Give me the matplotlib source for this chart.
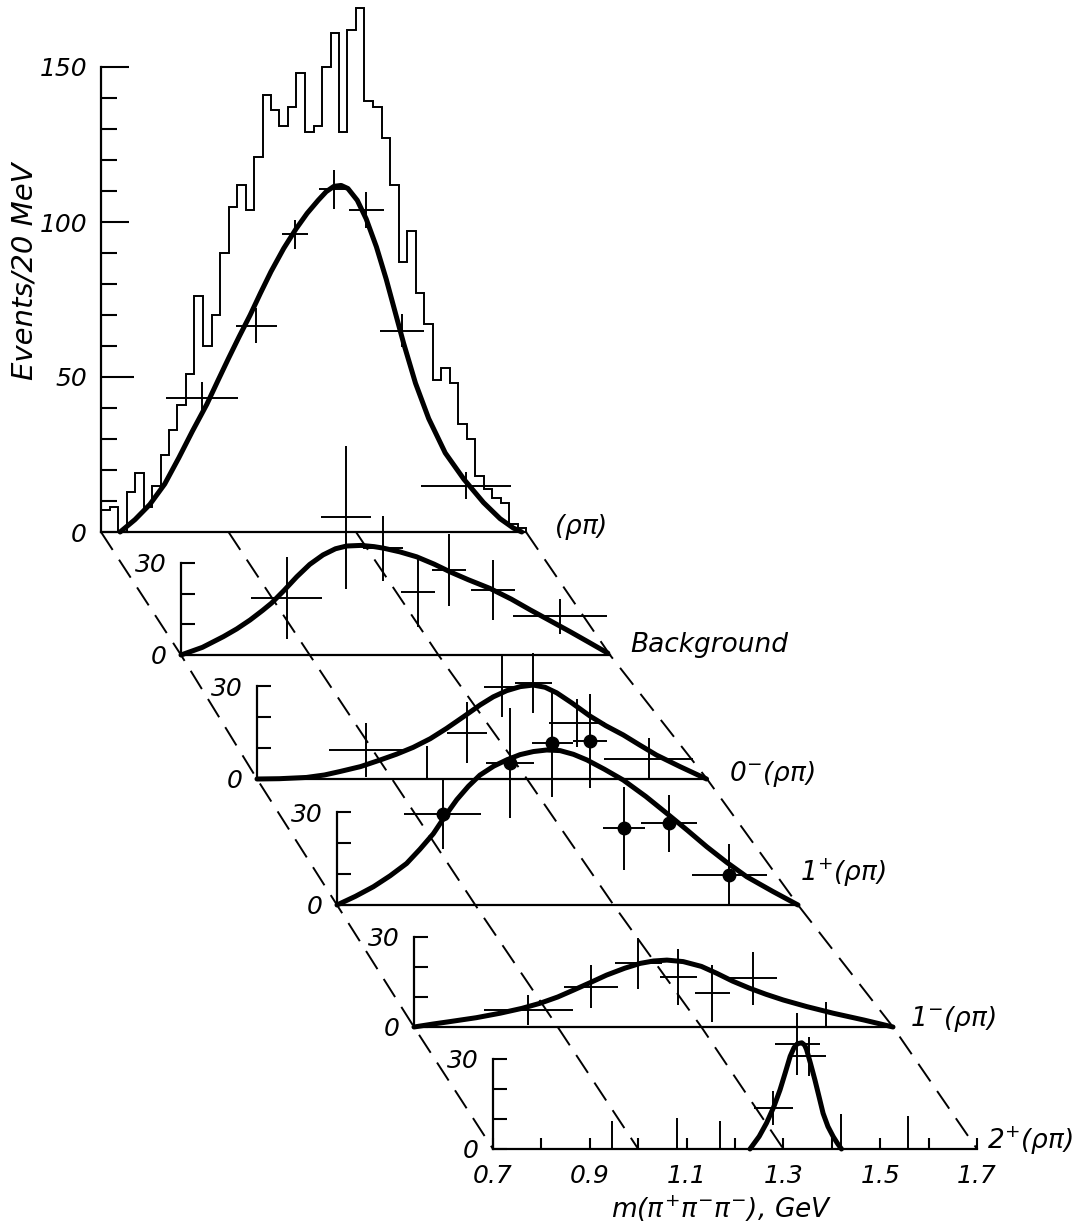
import matplotlib
matplotlib.use("Agg")
import matplotlib.pyplot as plt
from matplotlib.lines import Line2D
import numpy as np

plt.rcParams["font.family"] = ["DejaVu Sans"]
plt.rcParams["font.style"] = "italic"
plt.rcParams["mathtext.fontset"] = "custom"
plt.rcParams["mathtext.rm"] = "DejaVu Sans:italic"
plt.rcParams["mathtext.it"] = "DejaVu Sans:italic"

# ---------------- data (mass in GeV, events per 20 MeV) ----------------
# top panel: all events, histogram in 20 MeV bins starting at 0.70 GeV
hist_counts = [7, 8, 0, 13, 19, 8, 15, 25, 33, 41,
               51, 76, 60, 70, 90, 105, 112, 104, 121, 141,
               136, 131, 137, 148, 129, 131, 150, 161, 129, 162,
               169, 139, 137, 127, 112, 87, 97, 77, 67, 49,
               53, 48, 35, 30, 18, 14, 11, 9.5, 2.5, 1.4]
hist_edges = 0.70 + 0.02 * np.arange(len(hist_counts) + 1)

rhopi_fit_m = [0.745, 0.78, 0.815, 0.85, 0.883, 0.915, 0.949, 0.975, 1.000, 1.025,
               1.051, 1.075, 1.100, 1.130, 1.159, 1.185, 1.211, 1.230, 1.248, 1.265,
               1.281, 1.303, 1.324, 1.348, 1.371, 1.392, 1.412, 1.440, 1.471, 1.510,
               1.554, 1.600, 1.639, 1.670, 1.690]
rhopi_fit_v = [0, 4, 8.9, 15.5, 23.9, 32.5, 41.2, 48.8, 56, 63,
               70, 77, 84, 91.5, 97.8, 102.8, 107, 109.8, 111.5, 111.8,
               110.8, 107, 101, 92, 81.6, 71, 60.9, 48, 36.6, 25.5,
               17, 9.5, 4.3, 1.3, 0]
rhopi_m = [0.938, 1.065, 1.156, 1.248, 1.324, 1.408, 1.559]
rhopi_dm = [0.085, 0.048, 0.031, 0.034, 0.041, 0.052, 0.105]
rhopi_v = [43.3, 66.6, 96, 110.5, 103.8, 65, 14.9]
rhopi_dv = [5, 5.5, 4.6, 6.4, 5.8, 5.2, 4.4]

bg_fit_m = [0.70, 0.75, 0.799, 0.83, 0.861, 0.89, 0.911, 0.94, 0.97, 1.0,
            1.031, 1.06, 1.086, 1.12, 1.15, 1.172, 1.21, 1.249, 1.29, 1.327,
            1.37, 1.42, 1.47, 1.514, 1.56, 1.607, 1.65, 1.695]
bg_fit_v = [0, 2.5, 6.0, 8.5, 11.4, 14.5, 16.9, 21, 25.5, 29.5,
            32.6, 34.6, 35.5, 35.7, 35.3, 34.8, 33.6, 32.0, 29.6, 27.1,
            24.5, 21.7, 18.2, 14.7, 11.2, 7.6, 4.2, 0.6]
bg_m = [0.946, 1.085, 1.171, 1.253, 1.325, 1.427, 1.583]
bg_dm = [0.083, 0.058, 0.047, 0.04, 0.04, 0.052, 0.11]
bg_v = [18.5, 44.8, 34.7, 20.6, 27.7, 21.2, 12.7]
bg_dv = [13.3, 23.3, 10.6, 11.4, 11.8, 9.8, 5.7]

zm_fit_m = [0.70, 0.75, 0.81, 0.85, 0.884, 0.93, 0.973, 1.01, 1.047, 1.085,
            1.121, 1.16, 1.196, 1.225, 1.255, 1.285, 1.314, 1.34, 1.366, 1.40,
            1.44, 1.475, 1.514, 1.55, 1.588, 1.64, 1.699]
zm_fit_v = [0, 0.1, 0.5, 1.3, 2.4, 4, 6.1, 8, 10.2, 13,
            16.3, 20.2, 23.9, 26.5, 28.5, 29.8, 30.3, 29.6, 27.8, 24.5,
            20.3, 17.2, 14.2, 11, 7.7, 4, 0]
zm_m = [0.942, 1.166, 1.244, 1.314, 1.412, 1.570]
zm_dm = [0.083, 0.044, 0.039, 0.041, 0.062, 0.098]
zm_v = [9.4, 15, 29.8, 31, 18, 6.3]
zm_dv = [8.6, 9.7, 9.8, 9.8, 7.7, 7]
zm_zero_m = [1.077]
zm_zero_top = [10.6]

op_fit_m = [0.70, 0.74, 0.779, 0.815, 0.851, 0.88, 0.909, 0.935, 0.960, 0.985,
            1.010, 1.04, 1.068, 1.097, 1.126, 1.155, 1.184, 1.213, 1.242, 1.28,
            1.321, 1.37, 1.415, 1.46, 1.502, 1.545, 1.589, 1.645, 1.70]
op_fit_v = [0, 2.8, 5.9, 9.4, 13.4, 18.0, 23.0, 28.8, 34.0, 38.3,
            41.9, 44.8, 46.8, 48.5, 49.5, 50, 49.8, 48.6, 46.8, 43.8,
            40.3, 35, 29.6, 24.1, 18.8, 13.8, 9.1, 4.4, 0]
op_m = [0.929, 1.075, 1.167, 1.249, 1.323, 1.420, 1.551]
op_dm = [0.083, 0.052, 0.045, 0.036, 0.045, 0.06, 0.081]
op_v = [29.4, 45.7, 52.2, 52.9, 24.7, 26.3, 9.7]
op_dv = [11.3, 17.7, 17.2, 15.3, 13.4, 9.1, 10]

om_fit_m = [0.70, 0.74, 0.775, 0.83, 0.880, 0.925, 0.963, 1.0, 1.033, 1.068,
            1.102, 1.14, 1.172, 1.20, 1.228, 1.262, 1.30, 1.332, 1.365, 1.401,
            1.435, 1.471, 1.52, 1.575, 1.64, 1.70]
om_fit_v = [0, 1, 1.8, 3.1, 4.6, 6.2, 7.9, 10, 12.3, 14.8,
            17.3, 19.6, 21.2, 22, 22.3, 21.8, 20.2, 17.9, 15.3, 12.9,
            10.9, 9.0, 6.8, 4.6, 2.3, 0]
om_m = [0.939, 1.069, 1.168, 1.252, 1.323, 1.408]
om_dm = [0.092, 0.056, 0.049, 0.038, 0.037, 0.049]
om_v = [5.7, 13.4, 21.2, 16.6, 11.2, 16.2]
om_dv = [5, 7.2, 8.6, 9.4, 9.4, 8.9]
om_zero_m = [1.56]
om_zero_top = [8.3]

tp_fit_m = [1.231, 1.25, 1.265, 1.28, 1.293, 1.304, 1.314, 1.322, 1.329, 1.338,
            1.344, 1.348, 1.356, 1.365, 1.374, 1.382, 1.392, 1.403, 1.412, 1.420]
tp_fit_v = [0, 4.2, 8.6, 14, 19.7, 25.5, 30.9, 33.8, 35.1, 35.4,
            34.6, 33.1, 28.5, 23.1, 17.2, 11.9, 7.5, 4.1, 1.8, 0]
tp_m = [1.279, 1.329, 1.352]
tp_dm = [0.04, 0.046, 0.035]
tp_v = [13.6, 35.1, 31]
tp_dv = [5.6, 10.3, 6.5]
tp_zero_m = [0.945, 1.080, 1.169, 1.420, 1.558]
tp_zero_top = [9.5, 10.3, 9.5, 11.6, 11]

mass_ticks = [0.7, 0.9, 1.1, 1.3, 1.5, 1.7]
mass_minor = [0.8, 1.0, 1.2, 1.4, 1.6]
guide_masses = [0.7, 1.0, 1.3, 1.7]

# ---------------- layout ----------------
FW, FH = 1085, 1230
fig = plt.figure(figsize=(FW / 100, FH / 100), dpi=100)

# name, left end, right end, baseline (pixels), pixels per event, axis top, name offset
layout = [
    (r"$(\rho\pi)$",       101, 526, 532, 3.10, 150, (28, 5)),
    ("Background",         181, 610, 655, 3.07, 30, (20, 10)),
    (r"$0^{-}(\rho\pi)$",  257, 707, 779, 3.10, 30, (22, 5)),
    (r"$1^{+}(\rho\pi)$",  337, 798, 905, 3.10, 30, (2, 32)),
    (r"$1^{-}(\rho\pi)$",  414, 893, 1027, 3.00, 30, (17, 8)),
    (r"$2^{+}(\rho\pi)$",  493, 977, 1149, 3.00, 30, (10, 8)),
]

LW_AX = 1.6
LW_BAR = 1.4
LW_FIT = 3.6

axes = []
for name, x0, x1, y0, ppe, top, off in layout:
    ax = fig.add_axes([x0 / FW, 1 - y0 / FH, (x1 - x0) / FW, top * ppe / FH])
    ax.set_xlim(0.7, 1.7)
    ax.set_ylim(0, top)
    ax.patch.set_visible(False)
    ax.spines["top"].set_visible(False)
    ax.spines["right"].set_visible(False)
    ax.spines["left"].set_linewidth(LW_AX)
    ax.spines["bottom"].set_linewidth(LW_AX)
    ax.tick_params(axis="x", bottom=False, labelbottom=False)
    if top == 150:
        ax.set_yticks([0, 50, 100, 150])
        ax.set_yticklabels(["0", "50", "100", "150"])
        ax.set_yticks(np.arange(10, 150, 10), minor=True)
        ax.tick_params(axis="y", which="major", direction="in", length=20,
                       width=1.5, pad=10, labelsize=18)
        ax.tick_params(axis="y", which="minor", direction="in", length=11.5, width=1.5)
        ax.yaxis.get_major_ticks()[1].tick1line.set_markersize(24)
    else:
        ax.set_yticks([0, 30])
        ax.set_yticklabels(["0", "30"])
        ax.set_yticks([10, 20], minor=True)
        ax.tick_params(axis="y", which="both", direction="in", length=10,
                       width=1.5, pad=10, labelsize=18)
    ax.annotate(name, xy=(1.7, 0), xytext=off, textcoords="offset pixels",
                ha="left", va="center", fontsize=19)
    axes.append(ax)


def crosses(ax, m, dm, v, dv):
    m, dm, v, dv = map(np.asarray, (m, dm, v, dv))
    ax.hlines(v, m - dm, m + dm, colors="k", lw=LW_BAR, clip_on=False)
    ax.vlines(m, np.maximum(v - dv, 0), v + dv, colors="k", lw=LW_BAR, clip_on=False)


def fit(ax, m, v):
    ax.plot(m, v, color="k", lw=LW_FIT, solid_capstyle="round",
            solid_joinstyle="round", clip_on=False)


ax_rp, ax_bg, ax_zm, ax_op, ax_om, ax_tp = axes

# top panel
ax_rp.stairs(hist_counts, hist_edges, baseline=0, color="k", lw=LW_BAR, clip_on=False)
fit(ax_rp, rhopi_fit_m, rhopi_fit_v)
crosses(ax_rp, rhopi_m, rhopi_dm, rhopi_v, rhopi_dv)
ax_rp.text(-0.179, 0.56, "Events/20 MeV", rotation=90, transform=ax_rp.transAxes,
           ha="center", va="center", fontsize=21)

# background
fit(ax_bg, bg_fit_m, bg_fit_v)
crosses(ax_bg, bg_m, bg_dm, bg_v, bg_dv)

# 0-
fit(ax_zm, zm_fit_m, zm_fit_v)
crosses(ax_zm, zm_m, zm_dm, zm_v, zm_dv)
ax_zm.vlines(zm_zero_m, 0, zm_zero_top, colors="k", lw=LW_BAR, clip_on=False)

# 1+
fit(ax_op, op_fit_m, op_fit_v)
crosses(ax_op, op_m, op_dm, op_v, op_dv)
ax_op.plot(op_m, op_v, "o", color="k", ms=9, clip_on=False)

# 1-
fit(ax_om, om_fit_m, om_fit_v)
crosses(ax_om, om_m, om_dm, om_v, om_dv)
ax_om.vlines(om_zero_m, 0, om_zero_top, colors="k", lw=LW_BAR, clip_on=False)

# 2+
fit(ax_tp, tp_fit_m, tp_fit_v)
crosses(ax_tp, tp_m, tp_dm, tp_v, tp_dv)
ax_tp.vlines(tp_zero_m, 0, tp_zero_top, colors="k", lw=LW_BAR, clip_on=False)
ax_tp.tick_params(axis="x", bottom=True, labelbottom=True)
ax_tp.set_xticks(mass_ticks)
ax_tp.set_xticklabels([f"{t:.1f}" for t in mass_ticks])
ax_tp.set_xticks(mass_minor, minor=True)
ax_tp.tick_params(axis="x", which="both", direction="in", length=8, width=1.5,
                  pad=11, labelsize=18)
ax_tp.set_xlabel(r"$m(\pi^{+}\pi^{-}\pi^{-})$, GeV", fontsize=19)
ax_tp.xaxis.set_label_coords(0.4725, -0.5)

# dashed guide lines joining the same mass on successive panels
to_fig = fig.transFigure.inverted()
for gm in guide_masses:
    pts = np.array([to_fig.transform(ax.transData.transform((gm, 0))) for ax in axes])
    fig.add_artist(Line2D(pts[:, 0], pts[:, 1], transform=fig.transFigure,
                          color="k", lw=1.4, ls=(0, (11, 6))))

fig.savefig("out.png", dpi=100)
